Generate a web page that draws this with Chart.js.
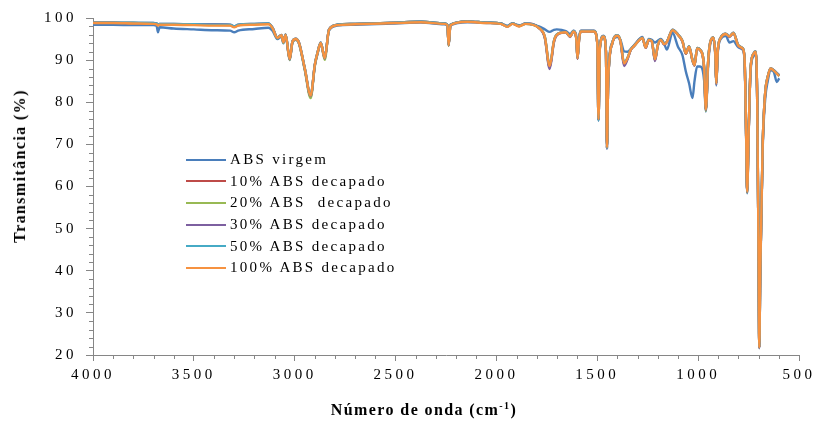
<!DOCTYPE html>
<html>
<head>
<meta charset="utf-8">
<script src="https://cdn.jsdelivr.net/npm/chart.js@4.4.1/dist/chart.umd.min.js"></script>
<style>
  body { margin: 0; background: #fff; }
  #wrap { position: relative; width: 815px; height: 426px; }
  #c { position: absolute; left: 0; top: 0; }
  .title { position: absolute; font-family: "Liberation Serif", serif; font-weight: bold;
    font-size: 16px; letter-spacing: 1.4px; white-space: nowrap; color: #000; }
  #ytitle { left: 20px; top: 166px; transform: translate(-50%, -50%) rotate(-90deg); }
  #xtitle { left: 424px; top: 410px; transform: translate(-50%, -50%); }
  #xtitle sup { font-size: 10px; vertical-align: 6px; line-height: 0; }
  #legend { position: absolute; left: 186px; top: 149px; font-family: "Liberation Serif", serif;
    font-size: 15px; letter-spacing: 2.3px; color: #000; }
  #legend .row { height: 21.6px; display: flex; align-items: center; white-space: pre; }
  #legend .swatch { width: 40px; height: 2px; margin-right: 4px; }
</style>
</head>
<body>
<div id="wrap">
  <canvas id="c" width="815" height="426"></canvas>
  <div id="ytitle" class="title">Transmitância (%)</div>
  <div id="xtitle" class="title">Número de onda (cm<sup>-1</sup>)</div>
  <div id="legend"></div>
</div>
<script>
// wavenumbers (cm-1) shared by every spectrum
const waveNumbers = [4000,3900,3800,3700,3685,3678,3670,3600,3500,3400,
  3320,3300,3280,3200,3130,3110,3086,3066,3056,3045,
  3025,3011,2995,2979,2950,2921,2900,2887,2871,2851,
  2830,2788,2700,2500,2375,2260,2243,2237,2228,2144,
  2050,1979,1945,1921,1888,1855,1789,1760,1736,1715,
  1701,1656,1635,1618,1605,1598,1590,1582,1516,1500,
  1494,1487,1469,1457,1452,1446,1425,1400,1385,1367,
  1350,1334,1318,1276,1260,1245,1230,1214,1200,1185,
  1169,1155,1127,1100,1078,1061,1045,1028,1018,1005,
  990,970,962,950,940,925,915,910,903,888,
  863,845,825,800,780,770,762,757,750,740,
  725,715,707,700,697,692,680,668,655,640,
  625,610,598];

const absVirgem = [98.4,98.4,98.3,98.3,98.2,96.6,97.8,97.5,97.3,97.1,
  97.0,96.6,97.0,97.4,97.7,97.0,95.0,95.6,94.0,95.8,
  90.0,94.2,94.8,93.9,87.8,81.4,88.8,91.5,93.9,90.6,
  97.0,98.2,98.4,98.7,98.9,98.5,98.2,93.4,98.2,99.0,
  98.8,98.7,98.2,98.7,98.3,98.6,98.0,97.3,96.7,97.2,
  97.3,96.9,96.2,97.0,96.0,91.5,95.5,97.0,97.0,94.2,
  75.6,93.2,95.8,92.0,69.0,85.0,94.3,95.5,94.8,92.1,
  92.0,92.6,93.5,95.5,93.0,95.0,94.8,94.2,94.6,95.0,
  94.0,92.5,96.5,93.2,91.2,87.3,84.5,81.0,85.0,88.5,
  88.5,85.0,77.8,89.0,93.8,95.0,91.0,84.0,91.5,95.0,
  95.8,94.2,94.5,93.0,92.5,90.0,71.5,58.4,71.5,87.5,
  91.0,91.6,79.5,39.5,21.6,39.5,69.0,80.5,85.0,87.6,
  87.2,84.8,85.7];

const dec10 = [98.9,98.9,98.8,98.7,98.6,98.3,98.5,98.5,98.4,98.4,
  98.3,97.9,98.3,98.5,98.6,97.7,95.4,96.0,94.4,96.1,
  90.2,94.5,95.1,94.2,88.0,81.4,89.0,91.8,94.2,90.4,
  97.3,98.4,98.6,98.9,99.1,98.7,98.4,93.5,98.4,99.2,
  98.9,98.7,98.0,98.7,98.1,98.7,97.7,95.4,88.3,94.4,
  96.0,96.7,95.6,96.9,95.5,90.3,95.0,96.9,96.9,94.0,
  75.8,93.0,95.7,92.0,69.2,85.0,94.2,95.9,94.5,89.0,
  90.4,92.5,93.4,95.3,93.0,94.9,94.6,90.0,93.5,94.9,
  93.8,94.4,97.2,96.1,94.6,91.5,93.3,90.0,88.7,92.9,
  92.5,88.0,78.2,90.0,94.3,95.4,91.5,84.4,92.0,95.4,
  96.3,95.7,96.5,93.5,92.9,90.6,72.0,58.7,72.0,88.0,
  91.6,92.1,80.0,40.0,21.8,40.0,70.0,82.0,86.1,88.1,
  87.6,86.9,86.3];

const dec20 = [98.9,98.9,98.8,98.7,98.6,98.3,98.5,98.5,98.4,98.3,
  98.3,97.9,98.3,98.5,98.6,97.6,95.2,95.8,94.1,95.9,
  90.0,94.3,94.9,94.0,87.6,81.0,88.7,91.6,94.0,90.1,
  97.2,98.4,98.6,98.9,99.1,98.7,98.4,93.4,98.4,99.2,
  98.9,98.7,98.0,98.7,98.1,98.6,97.6,95.4,88.4,94.4,
  96.0,96.6,95.6,96.8,95.4,90.4,95.0,96.8,96.8,94.0,
  75.9,93.0,95.6,92.0,69.3,85.0,94.1,95.8,94.5,89.1,
  90.5,92.5,93.3,95.2,93.0,94.8,94.5,90.1,93.5,94.8,
  93.8,94.3,97.1,96.0,94.5,91.6,93.2,89.8,88.8,92.8,
  92.4,88.0,78.0,90.0,94.2,95.3,91.5,84.5,92.0,95.3,
  96.2,95.6,96.4,93.4,92.8,90.5,72.0,58.6,72.0,88.0,
  91.5,92.0,80.0,40.0,21.8,40.0,70.0,82.0,86.0,87.9,
  87.5,86.8,86.2];

const dec30 = [98.9,98.9,98.8,98.8,98.7,98.4,98.6,98.6,98.5,98.5,
  98.4,98.0,98.4,98.6,98.7,97.7,95.3,95.9,94.3,96.0,
  90.2,94.4,95.0,94.1,87.9,81.5,88.9,91.7,94.1,90.4,
  97.3,98.4,98.6,98.9,99.1,98.7,98.4,93.6,98.4,99.2,
  98.9,98.7,98.0,98.7,98.1,98.7,97.6,95.2,87.9,94.2,
  95.9,96.6,95.5,96.8,95.4,90.3,94.9,96.8,96.8,93.9,
  75.8,92.9,95.6,91.9,69.0,84.8,94.0,95.8,94.3,88.6,
  90.2,92.4,93.3,95.2,92.9,94.7,94.4,89.8,93.4,94.8,
  93.7,94.2,97.1,96.0,94.4,91.5,93.1,89.9,88.7,92.7,
  92.3,87.9,78.2,89.9,94.1,95.3,91.4,84.4,91.9,95.3,
  96.2,95.5,96.4,93.3,92.7,90.4,71.9,58.7,71.9,87.9,
  91.5,92.0,79.9,39.9,21.7,39.9,69.9,81.9,85.9,87.9,
  87.6,87.0,86.4];

const dec50 = [98.9,98.9,98.9,98.8,98.7,98.4,98.6,98.6,98.5,98.4,
  98.4,98.0,98.4,98.6,98.7,97.7,95.4,96.0,94.4,96.1,
  90.4,94.5,95.1,94.2,88.1,81.7,89.1,91.8,94.2,90.6,
  97.3,98.4,98.6,98.9,99.1,98.7,98.4,93.7,98.4,99.2,
  98.9,98.7,98.0,98.7,98.1,98.7,97.7,95.6,88.8,94.6,
  96.1,96.7,95.7,96.9,95.6,90.6,95.1,96.9,96.9,94.1,
  75.7,93.1,95.7,92.1,69.1,85.1,94.2,95.9,94.6,89.4,
  90.6,92.6,93.4,95.3,93.1,94.9,94.6,90.3,93.6,94.9,
  93.9,94.4,97.2,96.1,94.6,91.7,93.3,90.1,88.9,92.9,
  92.5,88.1,78.4,90.1,94.3,95.4,91.6,84.6,92.1,95.4,
  96.3,95.7,96.5,93.5,92.9,90.6,72.1,58.9,72.1,88.1,
  91.6,92.1,80.1,40.1,21.9,40.1,70.1,82.1,86.1,88.1,
  87.6,86.9,86.3];

const dec100 = [98.8,98.8,98.7,98.6,98.5,98.2,98.4,98.4,98.3,98.2,
  98.2,97.8,98.2,98.4,98.5,97.6,95.3,95.9,94.3,96.0,
  90.3,94.4,95.0,94.1,88.0,81.6,89.0,91.7,94.1,90.5,
  97.2,98.3,98.5,98.8,99.0,98.6,98.3,93.6,98.3,99.1,
  98.8,98.6,97.9,98.6,98.0,98.6,97.6,95.5,88.6,94.5,
  96.0,96.6,95.6,96.8,95.5,90.5,95.0,96.8,96.8,94.0,
  76.0,93.0,95.6,92.0,69.3,85.0,94.1,95.8,94.5,89.2,
  90.5,92.5,93.3,95.2,93.0,94.8,94.5,90.2,93.5,94.8,
  93.8,94.3,97.1,96.0,94.5,91.6,93.2,90.0,88.8,92.8,
  92.4,88.0,78.3,90.0,94.2,95.3,91.5,84.5,92.0,95.3,
  96.2,95.6,96.4,93.4,92.8,90.5,72.0,58.8,72.0,88.0,
  91.5,92.0,80.0,40.0,21.8,40.0,70.0,82.0,86.0,88.0,
  87.5,86.8,86.2];

const seriesNames = ["ABS virgem", "10% ABS decapado", "20% ABS  decapado",
  "30% ABS decapado", "50% ABS decapado", "100% ABS decapado"];
const seriesValues = [absVirgem, dec10, dec20, dec30, dec50, dec100];
const seriesColors = ["#4A7EBB", "#BE4B48", "#98B954", "#7D60A0", "#46AAC5", "#F69240"];

const xMin = 500, xMax = 4000, xStep = 500, xMinorStep = 100;
const yMin = 20, yMax = 100, yStep = 10, yMinorStep = 2;
const axisColor = "#868686";

const datasets = seriesNames.map((name, i) => ({
  label: name,
  data: waveNumbers.map((w, j) => ({ x: w, y: seriesValues[i][j] })),
  borderColor: seriesColors[i],
  backgroundColor: seriesColors[i],
  borderWidth: 2.4,
  pointRadius: 0,
  cubicInterpolationMode: "monotone",
  order: seriesNames.length - 1 - i // last series on top, like Excel
}));

// spaced-out tick text like the original picture
const letterSpacing = {
  id: "letterSpacing",
  beforeLayout(chart) { chart.ctx.letterSpacing = "3.5px"; },
  beforeDraw(chart) { chart.ctx.letterSpacing = "3.5px"; }
};

// short minor tick marks on both axes
const minorTicks = {
  id: "minorTicks",
  afterDraw(chart) {
    const { ctx, chartArea: a, scales: { x, y } } = chart;
    ctx.save();
    ctx.strokeStyle = axisColor;
    ctx.lineWidth = 1;
    ctx.beginPath();
    for (let v = yMin; v <= yMax; v += yMinorStep) {
      if (v % yStep === 0) continue;
      const py = Math.round(y.getPixelForValue(v)) + 0.5;
      ctx.moveTo(a.left - 4, py);
      ctx.lineTo(a.left, py);
    }
    for (let v = xMin; v <= xMax; v += xMinorStep) {
      if (v % xStep === 0) continue;
      const px = Math.round(x.getPixelForValue(v)) + 0.5;
      ctx.moveTo(px, a.bottom);
      ctx.lineTo(px, a.bottom + 4);
    }
    ctx.stroke();
    ctx.restore();
  }
};

const tickFont = { family: "'Liberation Serif', serif", size: 15 };

const chart = new Chart(document.getElementById("c"), {
  type: "line",
  data: { datasets },
  plugins: [letterSpacing, minorTicks],
  options: {
    responsive: false,
    animation: false,
    layout: { padding: { top: 18, right: 16, left: 0, bottom: 0 } },
    plugins: { legend: { display: false }, tooltip: { enabled: false } },
    scales: {
      x: {
        type: "linear",
        reverse: true,
        min: xMin, max: xMax,
        ticks: { stepSize: xStep, color: "#000", font: tickFont, padding: 5, maxRotation: 0,
          callback: v => String(v) },
        grid: { drawOnChartArea: false, tickLength: 6, color: axisColor },
        border: { color: axisColor },
        afterFit: s => { s.height = 71; s.paddingLeft = 0; s.paddingRight = 0; }
      },
      y: {
        min: yMin, max: yMax,
        ticks: { stepSize: yStep, color: "#000", font: tickFont, padding: 9 },
        grid: { drawOnChartArea: false, tickLength: 7, color: axisColor },
        border: { color: axisColor },
        afterFit: s => { s.width = 93; s.paddingTop = 0; s.paddingBottom = 0; }
      }
    }
  }
});

// legend drawn as html from the chart's datasets
const legendBox = document.getElementById("legend");
chart.data.datasets.forEach(ds => {
  const row = document.createElement("div");
  row.className = "row";
  const sw = document.createElement("span");
  sw.className = "swatch";
  sw.style.background = ds.borderColor;
  const txt = document.createElement("span");
  txt.textContent = ds.label;
  row.appendChild(sw);
  row.appendChild(txt);
  legendBox.appendChild(row);
});
</script>
</body>
</html>
